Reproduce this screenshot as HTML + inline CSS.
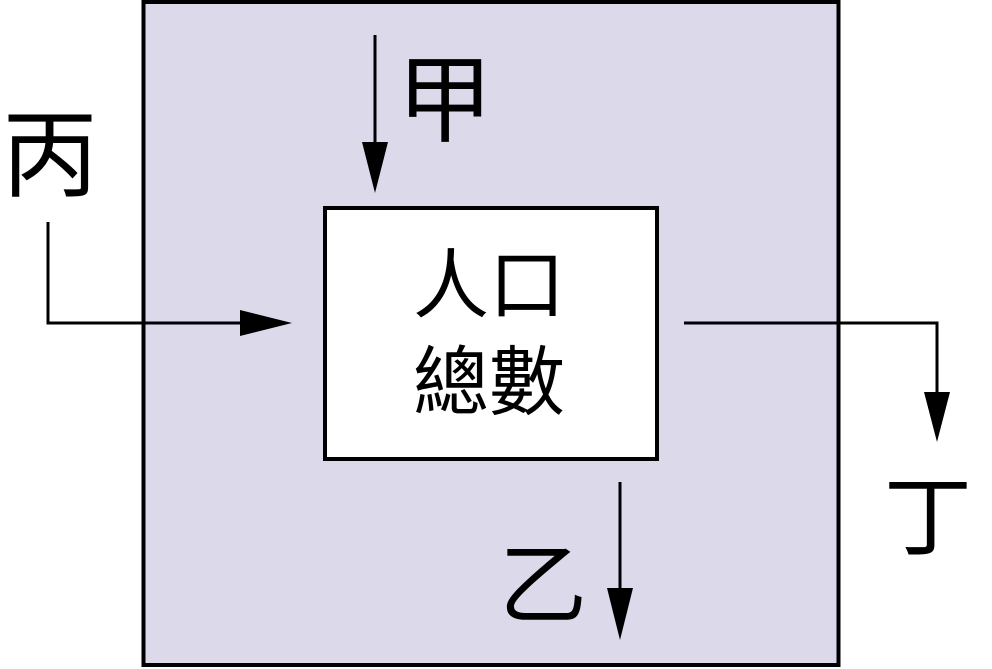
<!DOCTYPE html>
<html><head><meta charset="utf-8"><style>
html,body{margin:0;padding:0;background:#fff;width:992px;height:669px;overflow:hidden}
text{font-family:"Liberation Sans","Noto Sans CJK TC",sans-serif;fill:#000}
</style></head><body>
<svg width="992" height="669" viewBox="0 0 992 669" xmlns="http://www.w3.org/2000/svg">
<rect x="143.5" y="2" width="695" height="663" fill="#dcd9eb" stroke="#000" stroke-width="4"/>
<rect x="325" y="208" width="332" height="251" fill="#fff" stroke="#000" stroke-width="4"/>
<g stroke="#000" stroke-width="3" fill="none">
<line x1="375" y1="35" x2="375" y2="160"/>
<polyline points="48,222 48,323 250,323"/>
<polyline points="684,323 937,323 937,405"/>
<line x1="620" y1="482" x2="620" y2="600"/>
</g>
<g fill="#000">
<polygon points="362,142 388,142 375,193"/>
<polygon points="240,310 240,336 292,323"/>
<polygon points="924,392 950,392 937,442"/>
<polygon points="607,588 633,588 620,640"/>
</g>
<text x="445" y="134" font-size="96" text-anchor="middle">甲</text>
<text x="50" y="189" font-size="96" text-anchor="middle">丙</text>
<text x="928" y="548" font-size="88" text-anchor="middle">丁</text>
<text x="543" y="616" font-size="88" text-anchor="middle">乙</text>
<text x="489" y="312" font-size="76" text-anchor="middle">人口</text>
<text x="489" y="409" font-size="76" text-anchor="middle">總數</text>
</svg>
</body></html>
